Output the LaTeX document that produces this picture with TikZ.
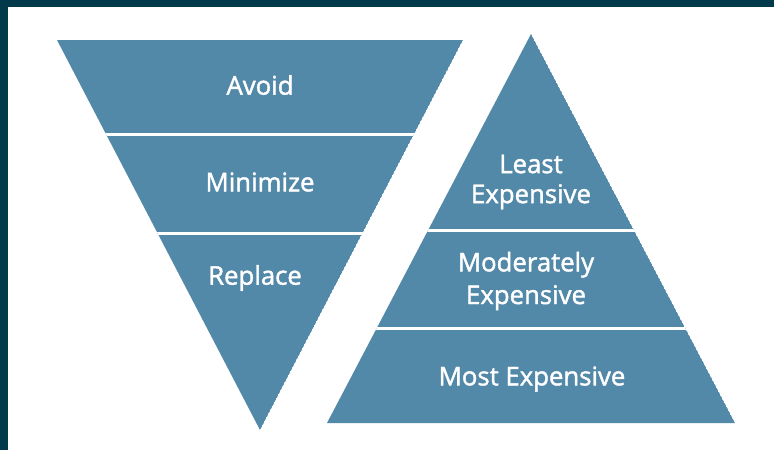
\documentclass[tikz,border=0pt]{standalone}
\usepackage{fontspec}
\setmainfont{Open Sans}
\newfontfamily\lblfont{Open Sans}[FakeBold=1.6]
\definecolor{frame}{HTML}{033A4B}
\definecolor{band}{HTML}{5288A8}
\tikzset{lbl/.style={text=white,align=center,font=\lblfont\fontsize{19.3}{22.5}\selectfont},
  gap/.style={white,line width=2.3pt}}

\begin{document}
\begin{tikzpicture}[x=0.75pt,y=-0.75pt]
\useasboundingbox (0,0) rectangle (774,450);
\fill[white] (0,0) rectangle (774,450);
\fill[frame] (0,0) rectangle (774,7);
\fill[frame] (0,0) rectangle (8,450);
% inverted triangle
\begin{scope}
\clip (57,40) -- (463,40) -- (260,430) -- cycle;
\fill[band] (57,40) -- (463,40) -- (260,430) -- cycle;
\draw[gap] (40,134.5) -- (480,134.5);
\draw[gap] (40,233.5) -- (480,233.5);
\end{scope}
\node[lbl] (avoid) at (260,85) {Avoid};
\node[lbl] (minimize) at (260,182) {Minimize};
\node[lbl] (replace) at (255,278) {Replace};
% upright triangle
\begin{scope}
\clip (531,34) -- (735,423) -- (327,423) -- cycle;
\fill[band] (531,34) -- (735,423) -- (327,423) -- cycle;
\draw[gap] (310,230.5) -- (750,230.5);
\draw[gap] (310,328.5) -- (750,328.5);
\end{scope}
\node[lbl] (least) at (531,182) {Least\\Expensive};
\node[lbl,font=\lblfont\fontsize{19.3}{24.5}\selectfont] (moderate) at (526,281) {Moderately\\Expensive};
\node[lbl] (most) at (532,379) {Most Expensive};
\end{tikzpicture}
\end{document}
